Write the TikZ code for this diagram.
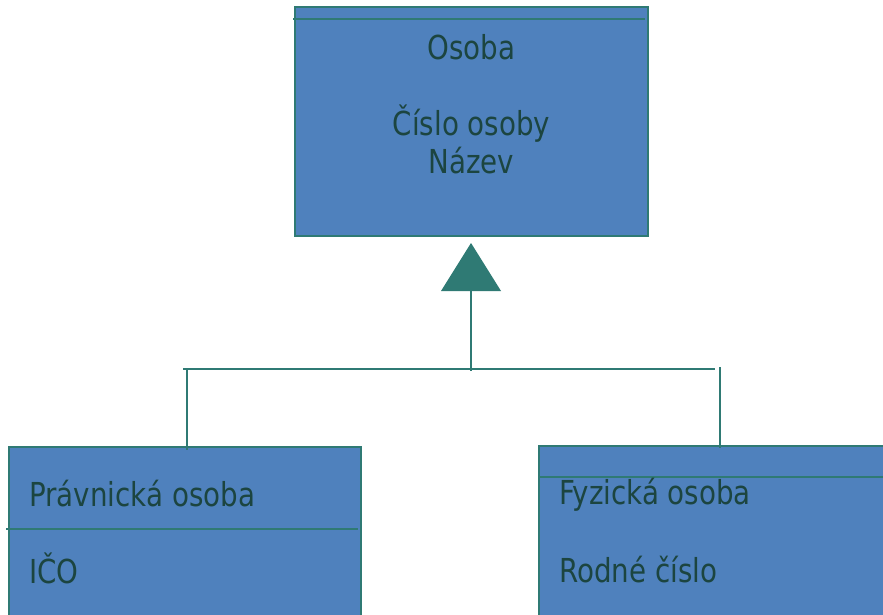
\documentclass[tikz,border=0pt]{standalone}
\usepackage{fontspec}
\setmainfont{DejaVu Sans}[FakeStretch=0.84]
\definecolor{umlfill}{HTML}{4F81BD}
\definecolor{umledge}{HTML}{2F7A74}
\definecolor{umltext}{HTML}{1C4540}
\begin{document}
\begin{tikzpicture}[x=1pt,y=-1pt,
  umlbox/.style={draw=umledge, line width=2pt, fill=umlfill, rectangle,
    inner sep=0pt, outer sep=0pt, anchor=north west},
  divider/.style={draw=umledge, line width=2pt},
  link/.style={draw=umledge, line width=2.6pt},
  label/.style={text=umltext, font=\fontsize{33}{38}\selectfont, inner sep=0pt},
]
\useasboundingbox (0,0) rectangle (883,614);
\fill[white] (0,0) rectangle (883,614);
\clip (0,0) rectangle (883,614);

% class boxes
\node[umlbox, minimum width=353pt, minimum height=229pt] (osoba) at (295,7) {};
\node[umlbox, minimum width=352pt, minimum height=260pt] (pravnicka) at (9,447) {};
\node[umlbox, minimum width=400pt, minimum height=260pt] (fyzicka) at (539,446) {};

% compartment dividers
\draw[divider] (293,19) -- (645,19);
\draw[divider] (6,529) -- (358,529);
\draw[divider] (539,477) -- (890,477);

% class texts
\node[label, anchor=base] (tOsoba) at (471.5,59) {Osoba};
\node[label, anchor=base] (tCislo) at (471.5,135) {Číslo osoby};
\node[label, anchor=base] (tNazev) at (471.5,173) {Název};
\node[label, anchor=base west] (tPrav) at (29,506) {Právnická osoba};
\node[label, anchor=base west] (tIco) at (29,583) {IČO};
\node[label, anchor=base west] (tFyz) at (559,504) {Fyzická osoba};
\node[label, anchor=base west] (tRod) at (559,582) {Rodné číslo};

% generalization connector
\coordinate (apex) at (471,243);
\coordinate (baseL) at (441,291);
\coordinate (baseR) at (501,291);
\coordinate (baseM) at (471,291);
\coordinate (joint) at (471,371);
\coordinate (barL) at (183,369);
\coordinate (barR) at (715,369);
\coordinate (dropL) at (187,369);
\coordinate (dropR) at (720,367);
\fill[umledge] (apex) -- (baseR) -- (baseL) -- cycle;
\draw[link] (baseM) -- (joint);
\draw[link] (barL) -- (barR);
\draw[link] (dropL) -- (dropL |- pravnicka.north) -- ++(0,3);
\draw[link] (dropR) -- (dropR |- fyzicka.north) -- ++(0,2);
\end{tikzpicture}
\end{document}
